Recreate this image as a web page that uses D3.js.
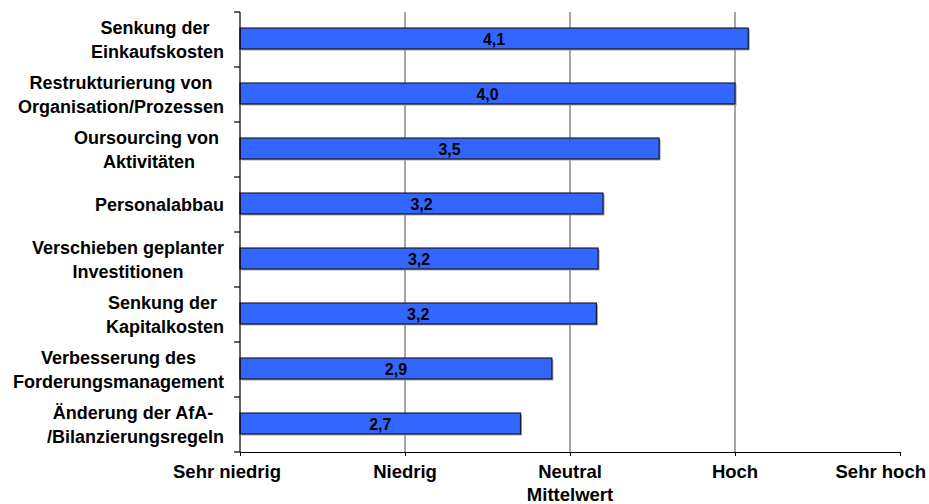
<!DOCTYPE html>
<html>
<head>
<meta charset="utf-8">
<script src="https://cdn.jsdelivr.net/npm/d3@7"></script>
<style>
  html, body { margin: 0; padding: 0; background: #ffffff; }
  svg { display: block; }
  text { font-family: "Liberation Sans", Arial, sans-serif; font-weight: bold; fill: #000; white-space: pre; }
</style>
</head>
<body>
<svg id="chart" width="929" height="504"></svg>
<script>
// Maßnahmen (Kategorien), jeweils als Zeilen des Beschriftungstextes
const categories = [
  ["Senkung der ", "Einkaufskosten"],
  ["Restrukturierung von", "Organisation/Prozessen"],
  ["Oursourcing von ", "Aktivitäten"],
  ["Personalabbau"],
  ["Verschieben geplanter", "Investitionen"],
  ["Senkung der ", "Kapitalkosten"],
  ["Verbesserung des", "Forderungsmanagement"],
  ["Änderung der AfA- ", "/Bilanzierungsregeln"]
];
// Mittelwerte je Maßnahme (Skala 1–5)
const values = [4.08, 4.0, 3.54, 3.2, 3.17, 3.16, 2.89, 2.7];
// Skalenstufen und Beschriftung der Werteachse
const scaleSteps = [1, 2, 3, 4, 5];
const tickLabels = ["Sehr niedrig", "Niedrig", "Neutral", "Hoch", "Sehr hoch"];
const axisTitle = "Mittelwert";

const svg = d3.select("#chart");
const plot = { left: 240, right: 900, top: 12, bottom: 452 };

const x = d3.scaleLinear().domain([1, 5]).range([plot.left, plot.right]);
const keys = categories.map((c, i) => i);
const y = d3.scaleBand().domain(keys).range([plot.top, plot.bottom])
  .paddingInner(0.62).paddingOuter(0.31).align(0.47);
const step = y.step();
const bandStart = i => plot.top + i * step;

const de = d3.formatLocale({ decimal: ",", thousands: ".", grouping: [3], currency: ["", " €"] });
const fmt = de.format(".1f");

// vertikale Gitterlinien bei Niedrig / Neutral / Hoch
svg.append("g").selectAll("line")
  .data([2, 3, 4])
  .join("line")
  .attr("x1", d => x(d)).attr("x2", d => x(d))
  .attr("y1", plot.top).attr("y2", plot.bottom)
  .attr("stroke", "#4d4d4d").attr("stroke-width", 1);

// Balken mit leichtem Schatten
const bars = svg.append("g");
bars.selectAll("rect.shadow")
  .data(values)
  .join("rect")
  .attr("class", "shadow")
  .attr("x", x(1) + 1.5)
  .attr("y", (d, i) => y(i) + 1.5)
  .attr("width", d => x(d) - x(1))
  .attr("height", y.bandwidth())
  .attr("fill", "#9a9a9a");
bars.selectAll("rect.bar")
  .data(values)
  .join("rect")
  .attr("class", "bar")
  .attr("x", x(1))
  .attr("y", (d, i) => y(i))
  .attr("width", d => x(d) - x(1))
  .attr("height", y.bandwidth())
  .attr("fill", "#3366ff")
  .attr("stroke", "#1a1a33")
  .attr("stroke-width", 1.2);

// Wertbeschriftung mittig im Balken
bars.selectAll("text")
  .data(values)
  .join("text")
  .attr("x", d => (x(1) + x(d)) / 2)
  .attr("y", (d, i) => y(i) + y.bandwidth() / 2 + 6.5)
  .attr("text-anchor", "middle")
  .attr("font-size", "16px")
  .text(d => fmt(d));

// Kategorienachse (links)
const yAxis = svg.append("g");
yAxis.append("line")
  .attr("x1", plot.left).attr("x2", plot.left)
  .attr("y1", plot.top).attr("y2", plot.bottom)
  .attr("stroke", "#000").attr("stroke-width", 1.2);
yAxis.selectAll("line.tick")
  .data(d3.range(categories.length + 1))
  .join("line")
  .attr("class", "tick")
  .attr("x1", plot.left - 6).attr("x2", plot.left)
  .attr("y1", i => bandStart(i)).attr("y2", i => bandStart(i))
  .attr("stroke", "#000").attr("stroke-width", 1.2);

// Kategorienbeschriftung: Block rechtsbündig, Zeilen zentriert
const labelRight = 224;
const lineHeight = 23.5;
categories.forEach((lines, i) => {
  const g = yAxis.append("g");
  const texts = lines.map(l => g.append("text").attr("font-size", "18px").text(l));
  const widths = texts.map(t => t.node().getComputedTextLength());
  const maxW = d3.max(widths);
  const cx = labelRight - maxW / 2;
  const mid = bandStart(i) + step / 2;
  const first = mid - (lines.length - 1) * lineHeight / 2 + 6.3;
  texts.forEach((t, k) => {
    t.attr("x", cx).attr("y", first + k * lineHeight).attr("text-anchor", "middle");
  });
});

// Werteachse (unten)
const xAxis = svg.append("g").attr("transform", `translate(0,${plot.bottom})`)
  .call(d3.axisBottom(x).tickValues(scaleSteps).tickSize(4).tickSizeOuter(0).tickFormat(() => ""));
xAxis.select(".domain").attr("stroke", "#000").attr("stroke-width", 1.2);
xAxis.selectAll(".tick line").attr("stroke", "#000").attr("stroke-width", 1);

const tickText = svg.append("g").selectAll("text")
  .data(scaleSteps)
  .join("text")
  .attr("font-size", "18.5px")
  .attr("y", 478)
  .text((d, i) => tickLabels[i]);
tickText.each(function (d, i) {
  const t = d3.select(this);
  if (i === scaleSteps.length - 1) {
    // letzte Beschriftung an den rechten Rand geschoben
    t.attr("x", 926).attr("text-anchor", "end");
  } else if (i === 0) {
    t.attr("x", x(d) - 13).attr("text-anchor", "middle");
  } else {
    t.attr("x", x(d)).attr("text-anchor", "middle");
  }
});

svg.append("text")
  .attr("x", x(3))
  .attr("y", 501)
  .attr("text-anchor", "middle")
  .attr("font-size", "18.5px")
  .text(axisTitle);
</script>
</body>
</html>
